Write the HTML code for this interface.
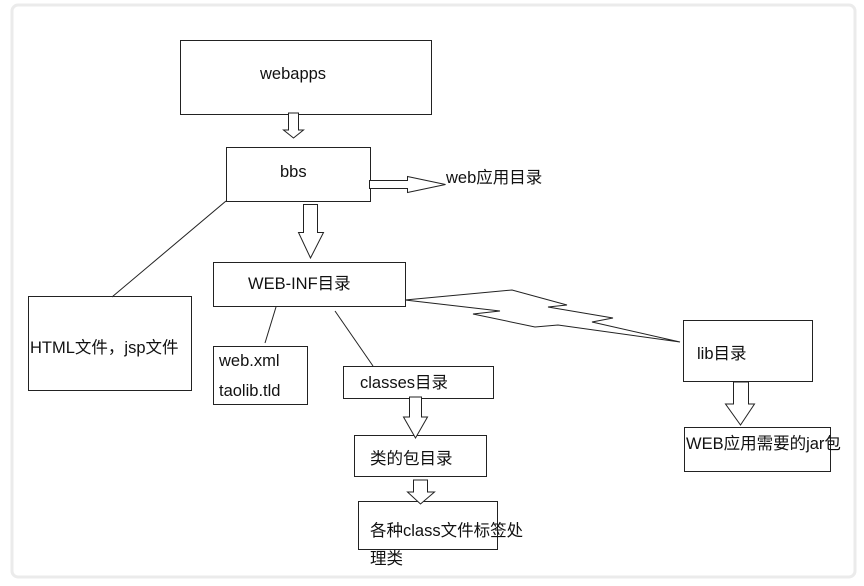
<!DOCTYPE html>
<html><head><meta charset="utf-8"><style>
html,body{margin:0;padding:0;background:#fff;}
svg{display:block;}
text{font-family:"Liberation Sans","Noto Sans CJK SC",sans-serif;font-size:16.5px;fill:#111;}
</style></head><body>
<svg width="864" height="586" viewBox="0 0 864 586" xmlns="http://www.w3.org/2000/svg">
<rect x="12" y="5" width="843" height="572" rx="6" fill="#fff" stroke="#ebebeb" stroke-width="3"/>
<g fill="#fff" stroke="#222" stroke-width="1">
<rect x="180.5" y="40.5" width="251" height="74"/>
<rect x="226.5" y="147.5" width="144" height="54"/>
<rect x="213.5" y="262.5" width="192" height="44"/>
<rect x="28.5" y="296.5" width="163" height="94"/>
<rect x="213.5" y="346.5" width="94" height="58"/>
<rect x="343.5" y="366.5" width="150" height="32"/>
<rect x="354.5" y="435.5" width="132" height="41"/>
<rect x="358.5" y="501.5" width="139" height="48"/>
<rect x="683.5" y="320.5" width="129" height="61"/>
<rect x="684.5" y="427.5" width="146" height="44"/>
<polygon points="288.5,113 298.5,113 298.5,130 303.5,130 293.5,138 283.5,130 288.5,130"/>
<polygon points="369.5,180.5 407.5,180.5 407.5,176.5 445.5,184.5 407.5,192.5 407.5,188.5 369.5,188.5"/>
<polygon points="303.5,204.5 317.5,204.5 317.5,232.5 323.5,232.5 310.5,258 298.5,232.5 303.5,232.5"/>
<polygon points="409.5,397 421.5,397 421.5,417 427.5,417 415.5,438 403.5,417 409.5,417"/>
<polygon points="413.5,480 427.5,480 427.5,492 434.5,492 420.5,504 407.5,492 413.5,492"/>
<polygon points="733.5,382 748.5,382 748.5,404 754.5,404 740.5,425 725.5,404 733.5,404"/>
<polygon points="405,300 512,290 567,305 548,307 613,318 592,322 680,342 558,325 535,327 473,314 500,311 405,300"/>
</g>
<g stroke="#222" stroke-width="1" fill="none">
<line x1="226" y1="201" x2="112" y2="297"/>
<line x1="276" y1="307" x2="265" y2="343"/>
<line x1="335" y1="311" x2="373" y2="366"/>
</g>
<text x="260" y="79">webapps</text>
<text x="280" y="177">bbs</text>
<text x="446" y="183">web应用目录</text>
<text x="248" y="289">WEB-INF目录</text>
<text x="30" y="353">HTML文件，jsp文件</text>
<text x="219" y="366">web.xml</text>
<text x="219" y="396">taolib.tld</text>
<text x="360" y="388">classes目录</text>
<text x="370" y="464">类的包目录</text>
<text x="370" y="536">各种class文件标签处</text>
<text x="370" y="564">理类</text>
<text x="697" y="359">lib目录</text>
<text x="686" y="449">WEB应用需要的jar包</text>
</svg>
</body></html>
